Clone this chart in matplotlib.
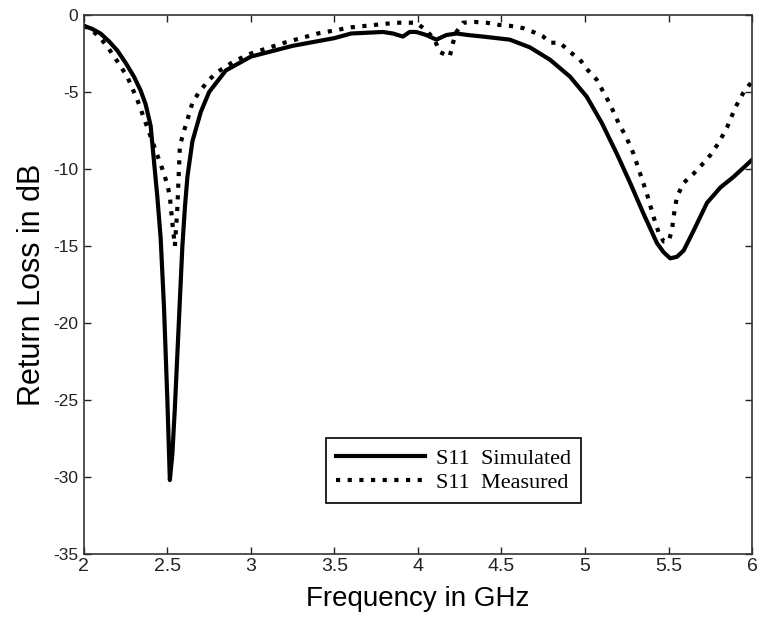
import matplotlib
matplotlib.use("Agg")
import matplotlib.pyplot as plt

plt.rcParams['axes.unicode_minus'] = False
plt.rcParams['font.family'] = ['Liberation Sans', 'DejaVu Sans']

# simulated S11 (solid)
sim_f = [2.0, 2.05, 2.1, 2.15, 2.2, 2.25, 2.3, 2.34, 2.37, 2.4, 2.42, 2.44, 2.46, 2.48, 2.5,
         2.515, 2.53, 2.545, 2.56, 2.575, 2.59, 2.605, 2.62, 2.65, 2.7, 2.75, 2.85, 3.0,
         3.25, 3.5, 3.6, 3.79, 3.85, 3.91, 3.95, 3.99, 4.05, 4.11, 4.17, 4.23, 4.3, 4.39,
         4.55, 4.67, 4.79, 4.91, 5.01, 5.1, 5.19, 5.27, 5.35, 5.43, 5.47, 5.51, 5.55, 5.59,
         5.65, 5.73, 5.81, 5.89, 6.0]
sim_db = [-0.7, -0.9, -1.2, -1.7, -2.3, -3.1, -4.0, -4.9, -5.8, -7.2, -9.5, -11.8, -14.5, -19.0, -25.0,
          -30.2, -28.5, -25.5, -22.0, -18.5, -15.0, -12.5, -10.5, -8.2, -6.3, -5.0, -3.6, -2.7,
          -2.0, -1.5, -1.2, -1.1, -1.2, -1.4, -1.1, -1.1, -1.3, -1.6, -1.3, -1.2, -1.3, -1.4,
          -1.6, -2.1, -2.9, -4.0, -5.3, -7.0, -9.0, -10.9, -12.9, -14.8, -15.4, -15.8, -15.7, -15.3,
          -14.0, -12.2, -11.2, -10.5, -9.4]

# measured S11 (dotted)
meas_f = [2.0, 2.05, 2.1, 2.15, 2.2, 2.26, 2.32, 2.38, 2.43, 2.47, 2.5, 2.515, 2.53, 2.545,
          2.56, 2.575, 2.6, 2.615, 2.65, 2.69, 2.75, 2.8, 2.9, 3.0, 3.2, 3.4, 3.6, 3.87, 3.99,
          4.05, 4.1, 4.13, 4.19, 4.21, 4.23, 4.27, 4.34, 4.41, 4.49, 4.55, 4.63, 4.69, 4.75,
          4.79, 4.85, 4.91, 4.97, 5.01, 5.07, 5.15, 5.2, 5.25, 5.29, 5.33, 5.37, 5.41, 5.44,
          5.47, 5.5, 5.52, 5.53, 5.55, 5.59, 5.65, 5.71, 5.75, 5.8, 5.85, 5.9, 5.95, 6.0]
meas_db = [-0.7, -1.0, -1.5, -2.2, -3.0, -4.0, -5.5, -7.3, -8.8, -10.0, -11.0, -11.8, -13.5, -15.0,
           -12.5, -8.5, -7.5, -7.0, -5.7, -5.0, -4.2, -3.7, -3.0, -2.5, -1.8, -1.2, -0.8, -0.5, -0.5,
           -1.0, -1.6, -2.4, -2.7, -1.8, -1.1, -0.5, -0.45, -0.5, -0.65, -0.7, -0.85, -1.1, -1.4,
           -1.8, -1.8, -2.4, -2.9, -3.5, -4.2, -5.8, -7.0, -8.0, -9.0, -10.3, -11.6, -13.1, -14.1,
           -14.7, -14.7, -14.0, -13.1, -11.8, -10.9, -10.3, -9.6, -9.1, -8.3, -7.3, -6.0, -5.0, -4.3]

xticks = [2, 2.5, 3, 3.5, 4, 4.5, 5, 5.5, 6]
xticklabels = ['2', '2.5', '3', '3.5', '4', '4.5', '5', '5.5', '6']
yticks = [-35, -30, -25, -20, -15, -10, -5, 0]

fig = plt.figure(figsize=(7.62, 6.26), dpi=100)
ax = fig.add_axes([0.110, 0.115, 0.877, 0.861])

ax.plot(sim_f, sim_db, color='black', lw=3, solid_joinstyle='round', label='S11  Simulated')
ax.plot(meas_f, meas_db, color='black', lw=3, linestyle=(0, (1, 1.8)),
        dash_capstyle='butt', label='S11  Measured')

ax.set_xlim(2, 6)
ax.set_ylim(-35, 0)
ax.set_xticks(xticks)
ax.set_xticklabels(xticklabels)
ax.set_yticks(yticks)
ax.tick_params(direction='in', length=5, width=1, top=True, right=True,
               labelsize=14, colors='#222222', pad=3)
ax.tick_params(axis='y', labelsize=12.5, pad=4)
for s in ax.spines.values():
    s.set_linewidth(1.2)
    s.set_color('#333333')

ax.set_xlabel('Frequency in GHz', fontsize=20, labelpad=8)
ax.set_ylabel('Return Loss in dB', fontsize=22, labelpad=4)

leg = ax.legend(loc='lower left', bbox_to_anchor=(0.362, 0.095), borderaxespad=0,
                fancybox=False, edgecolor='black', framealpha=1, handlelength=4.0,
                prop={'family': 'Liberation Serif', 'size': 16}, labelspacing=0.15,
                borderpad=0.45, handletextpad=0.5)
leg.get_frame().set_linewidth(1.2)

fig.savefig('out.png', dpi=100)
